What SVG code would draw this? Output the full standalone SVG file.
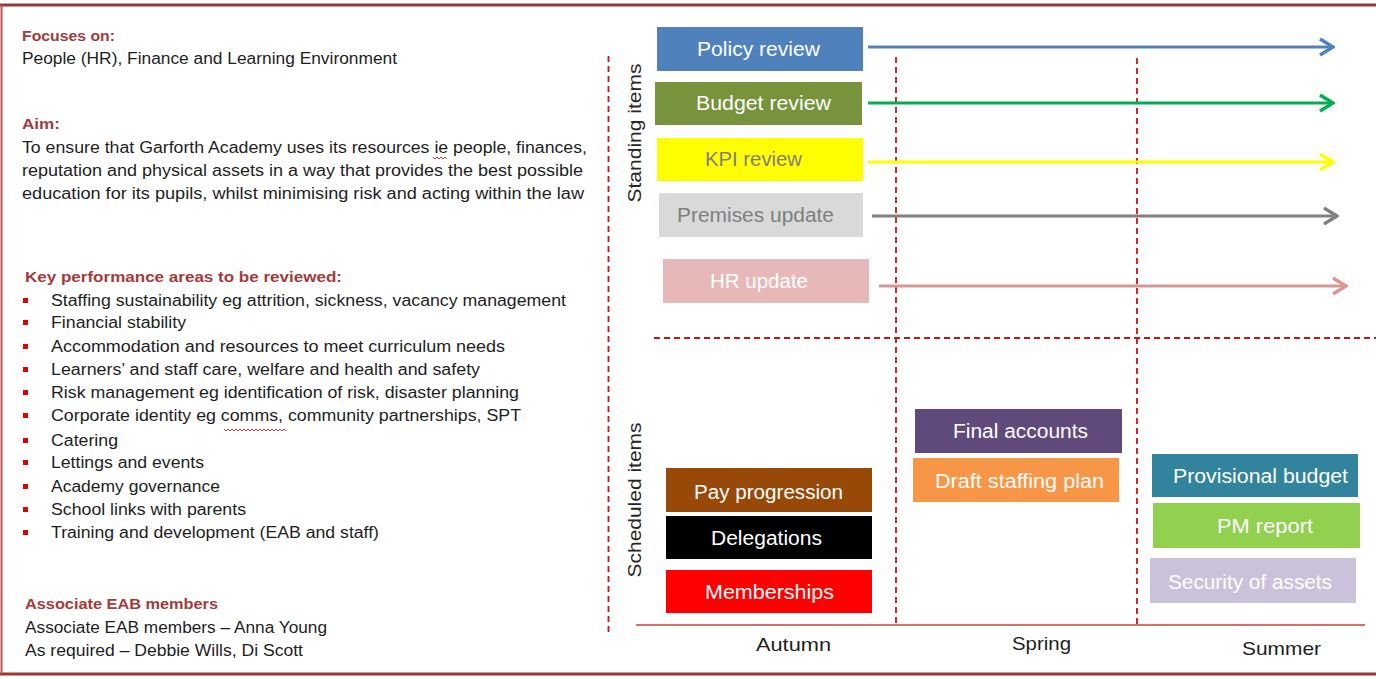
<svg xmlns="http://www.w3.org/2000/svg" width="1376" height="679" viewBox="0 0 1376 679">
<style>
.hd{font-family:"Liberation Sans",Arial,sans-serif;font-size:15.5px;font-weight:bold;fill:#a33b3b}
.tx{font-family:"Liberation Sans",Arial,sans-serif;font-size:16px;fill:#1e1e1e}
.bl{fill:#e00000}
.bx{font-family:"Liberation Sans",Arial,sans-serif;font-size:20px;fill:#ffffff;text-anchor:middle}
.gt{fill:#7f7f7f}
.ax{font-family:"Liberation Sans",Arial,sans-serif;font-size:19px;fill:#1e1e1e;text-anchor:middle}
.rot{font-family:"Liberation Sans",Arial,sans-serif;font-size:18px;fill:#262626;text-anchor:middle}
.dash{stroke:#c81414;stroke-width:1.8;stroke-dasharray:6,4;fill:none}
.arr{stroke-width:3;fill:none}
.sq{stroke:#e03030;stroke-width:1;fill:none}
</style>
<defs>
<marker id="mb" markerUnits="userSpaceOnUse" viewBox="0 0 18 20" markerWidth="18" markerHeight="20" refX="16" refY="10" orient="auto"><path d="M3,2 L16,10 L3,18" fill="none" stroke="#4f81bd" stroke-width="3.5"/></marker>
<marker id="mg" markerUnits="userSpaceOnUse" viewBox="0 0 18 20" markerWidth="18" markerHeight="20" refX="16" refY="10" orient="auto"><path d="M3,2 L16,10 L3,18" fill="none" stroke="#00b050" stroke-width="3.5"/></marker>
<marker id="my" markerUnits="userSpaceOnUse" viewBox="0 0 18 20" markerWidth="18" markerHeight="20" refX="16" refY="10" orient="auto"><path d="M3,2 L16,10 L3,18" fill="none" stroke="#ffff00" stroke-width="3.5"/></marker>
<marker id="mk" markerUnits="userSpaceOnUse" viewBox="0 0 18 20" markerWidth="18" markerHeight="20" refX="16" refY="10" orient="auto"><path d="M3,2 L16,10 L3,18" fill="none" stroke="#808080" stroke-width="3.5"/></marker>
<marker id="mp" markerUnits="userSpaceOnUse" viewBox="0 0 18 20" markerWidth="18" markerHeight="20" refX="16" refY="10" orient="auto"><path d="M3,2 L16,10 L3,18" fill="none" stroke="#d99694" stroke-width="3.5"/></marker>
</defs>
<rect width="1376" height="679" fill="#ffffff"/>
<g id="frame">
<line x1="0" y1="5" x2="1376" y2="5" stroke="#953735" stroke-width="3"/>
<line x1="0" y1="674" x2="1376" y2="674" stroke="#953735" stroke-width="3"/>
<line x1="1.5" y1="5" x2="1.5" y2="674" stroke="#c0504d" stroke-width="2"/>
</g>
<g id="info">
<text class="hd" x="22" y="41" textLength="93" lengthAdjust="spacingAndGlyphs">Focuses on:</text>
<text class="tx" x="22" y="64" textLength="375" lengthAdjust="spacingAndGlyphs">People (HR), Finance and Learning Environment</text>
<text class="hd" x="22" y="129" textLength="38" lengthAdjust="spacingAndGlyphs">Aim:</text>
<text class="tx" x="22" y="153" textLength="565" lengthAdjust="spacingAndGlyphs">To ensure that Garforth Academy uses its resources ie people, finances,</text>
<text class="tx" x="22" y="176" textLength="561" lengthAdjust="spacingAndGlyphs">reputation and physical assets in a way that provides the best possible</text>
<text class="tx" x="22" y="199" textLength="562" lengthAdjust="spacingAndGlyphs">education for its pupils, whilst minimising risk and acting within the law</text>
<path class="sq" d="M433,157 l2,2 l2,-2 l2,2 l2,-2 l2,2 l2,-2 l2,2"/>
<text class="hd" x="25" y="282" textLength="317" lengthAdjust="spacingAndGlyphs">Key performance areas to be reviewed:</text>
<g id="bullets">
<rect class="bl" x="23" y="298" width="5" height="5"/>
<rect class="bl" x="23" y="320" width="5" height="5"/>
<rect class="bl" x="23" y="344" width="5" height="5"/>
<rect class="bl" x="23" y="367" width="5" height="5"/>
<rect class="bl" x="23" y="390" width="5" height="5"/>
<rect class="bl" x="23" y="413" width="5" height="5"/>
<rect class="bl" x="23" y="438" width="5" height="5"/>
<rect class="bl" x="23" y="460" width="5" height="5"/>
<rect class="bl" x="23" y="484" width="5" height="5"/>
<rect class="bl" x="23" y="507" width="5" height="5"/>
<rect class="bl" x="23" y="530" width="5" height="5"/>
<text class="tx" x="51" y="306" textLength="515" lengthAdjust="spacingAndGlyphs">Staffing sustainability eg attrition, sickness, vacancy management</text>
<text class="tx" x="51" y="328" textLength="135" lengthAdjust="spacingAndGlyphs">Financial stability</text>
<text class="tx" x="51" y="352" textLength="454" lengthAdjust="spacingAndGlyphs">Accommodation and resources to meet curriculum needs</text>
<text class="tx" x="51" y="375" textLength="429" lengthAdjust="spacingAndGlyphs">Learners’ and staff care, welfare and health and safety</text>
<text class="tx" x="51" y="398" textLength="468" lengthAdjust="spacingAndGlyphs">Risk management eg identification of risk, disaster planning</text>
<text class="tx" x="51" y="421" textLength="470" lengthAdjust="spacingAndGlyphs">Corporate identity eg comms, community partnerships, SPT</text>
<path class="sq" d="M224,429 l2,2 l2,-2 l2,2 l2,-2 l2,2 l2,-2 l2,2 l2,-2 l2,2 l2,-2 l2,2 l2,-2 l2,2 l2,-2 l2,2 l2,-2 l2,2 l2,-2 l2,2 l2,-2 l2,2 l2,-2 l2,2 l2,-2 l2,2 l2,-2 l2,2 l2,-2 l2,2 l2,-2 l2,2"/>
<text class="tx" x="51" y="446" textLength="67" lengthAdjust="spacingAndGlyphs">Catering</text>
<text class="tx" x="51" y="468" textLength="153" lengthAdjust="spacingAndGlyphs">Lettings and events</text>
<text class="tx" x="51" y="492" textLength="169" lengthAdjust="spacingAndGlyphs">Academy governance</text>
<text class="tx" x="51" y="515" textLength="195" lengthAdjust="spacingAndGlyphs">School links with parents</text>
<text class="tx" x="51" y="538" textLength="328" lengthAdjust="spacingAndGlyphs">Training and development (EAB and staff)</text>
</g>
<text class="hd" x="25" y="609" textLength="193" lengthAdjust="spacingAndGlyphs">Associate EAB members</text>
<text class="tx" x="25" y="633" textLength="302" lengthAdjust="spacingAndGlyphs">Associate EAB members – Anna Young</text>
<text class="tx" x="25" y="656" textLength="278" lengthAdjust="spacingAndGlyphs">As required – Debbie Wills, Di Scott</text>
</g>
<g id="grid">
<line class="dash" x1="608.5" y1="56" x2="608.5" y2="636"/>
<line class="dash" x1="896" y1="57" x2="896" y2="625"/>
<line class="dash" x1="1137" y1="58" x2="1137" y2="625"/>
<line class="dash" x1="654" y1="338" x2="1376" y2="338"/>
<line x1="636" y1="625" x2="1365" y2="625" stroke="#d03a3a" stroke-width="1.6"/>
<text class="rot" transform="translate(641,133) rotate(-90)" textLength="139" lengthAdjust="spacingAndGlyphs">Standing items</text>
<text class="rot" transform="translate(641,500) rotate(-90)" textLength="155" lengthAdjust="spacingAndGlyphs">Scheduled items</text>
<text class="ax" x="793.5" y="651" textLength="75" lengthAdjust="spacingAndGlyphs">Autumn</text>
<text class="ax" x="1041.5" y="650" textLength="59" lengthAdjust="spacingAndGlyphs">Spring</text>
<text class="ax" x="1281.5" y="655" textLength="79" lengthAdjust="spacingAndGlyphs">Summer</text>
</g>
<g id="connectors">
<line class="arr" x1="868" y1="47" x2="1333" y2="47" stroke="#4f81bd" marker-end="url(#mb)"/>
<line class="arr" x1="868" y1="103" x2="1333" y2="103" stroke="#00b050" marker-end="url(#mg)"/>
<line class="arr" x1="868" y1="162" x2="1333" y2="162" stroke="#ffff00" marker-end="url(#my)"/>
<line class="arr" x1="872" y1="216" x2="1337" y2="216" stroke="#808080" marker-end="url(#mk)"/>
<line class="arr" x1="879" y1="286" x2="1346" y2="286" stroke="#d99694" marker-end="url(#mp)"/>
</g>
<g id="policy-review"><rect x="657" y="27" width="206" height="44" fill="#4f81bd"/><text class="bx" x="758.5" y="56" textLength="123" lengthAdjust="spacingAndGlyphs">Policy review</text></g>
<g id="budget-review"><rect x="655" y="82" width="207" height="43" fill="#77933c"/><text class="bx" x="763.5" y="110" textLength="135" lengthAdjust="spacingAndGlyphs">Budget review</text></g>
<g id="kpi-review"><rect x="657" y="138" width="206" height="43" fill="#ffff00"/><text class="bx gt" x="753.5" y="166" textLength="97" lengthAdjust="spacingAndGlyphs">KPI review</text></g>
<g id="premises-update"><rect x="659" y="193" width="204" height="44" fill="#d9d9d9"/><text class="bx gt" x="755.5" y="222" textLength="157" lengthAdjust="spacingAndGlyphs">Premises update</text></g>
<g id="hr-update"><rect x="663" y="259" width="206" height="44" fill="#e6b9b8"/><text class="bx" x="759" y="288" textLength="98" lengthAdjust="spacingAndGlyphs">HR update</text></g>
<g id="pay-progression"><rect x="666" y="468" width="206" height="44" fill="#984807"/><text class="bx" x="768.5" y="499" textLength="149" lengthAdjust="spacingAndGlyphs">Pay progression</text></g>
<g id="delegations"><rect x="666" y="516" width="206" height="43" fill="#000000"/><text class="bx" x="766.5" y="545" textLength="111" lengthAdjust="spacingAndGlyphs">Delegations</text></g>
<g id="memberships"><rect x="666" y="570" width="206" height="43" fill="#ff0000"/><text class="bx" x="769.5" y="599" textLength="129" lengthAdjust="spacingAndGlyphs">Memberships</text></g>
<g id="final-accounts"><rect x="915" y="409" width="207" height="44" fill="#604a7b"/><text class="bx" x="1020.5" y="438" textLength="135" lengthAdjust="spacingAndGlyphs">Final accounts</text></g>
<g id="draft-staffing-plan"><rect x="913" y="458" width="206" height="44" fill="#f79646"/><text class="bx" x="1019.5" y="488" textLength="169" lengthAdjust="spacingAndGlyphs">Draft staffing plan</text></g>
<g id="provisional-budget"><rect x="1152" y="454" width="206" height="43" fill="#31849b"/><text class="bx" x="1260.5" y="483" textLength="175" lengthAdjust="spacingAndGlyphs">Provisional budget</text></g>
<g id="pm-report"><rect x="1153" y="503" width="207" height="45" fill="#92d050"/><text class="bx" x="1265" y="533" textLength="96" lengthAdjust="spacingAndGlyphs">PM report</text></g>
<g id="security-of-assets"><rect x="1150" y="558" width="206" height="45" fill="#ccc1da"/><text class="bx" x="1250" y="589" textLength="164" lengthAdjust="spacingAndGlyphs">Security of assets</text></g>
</svg>
